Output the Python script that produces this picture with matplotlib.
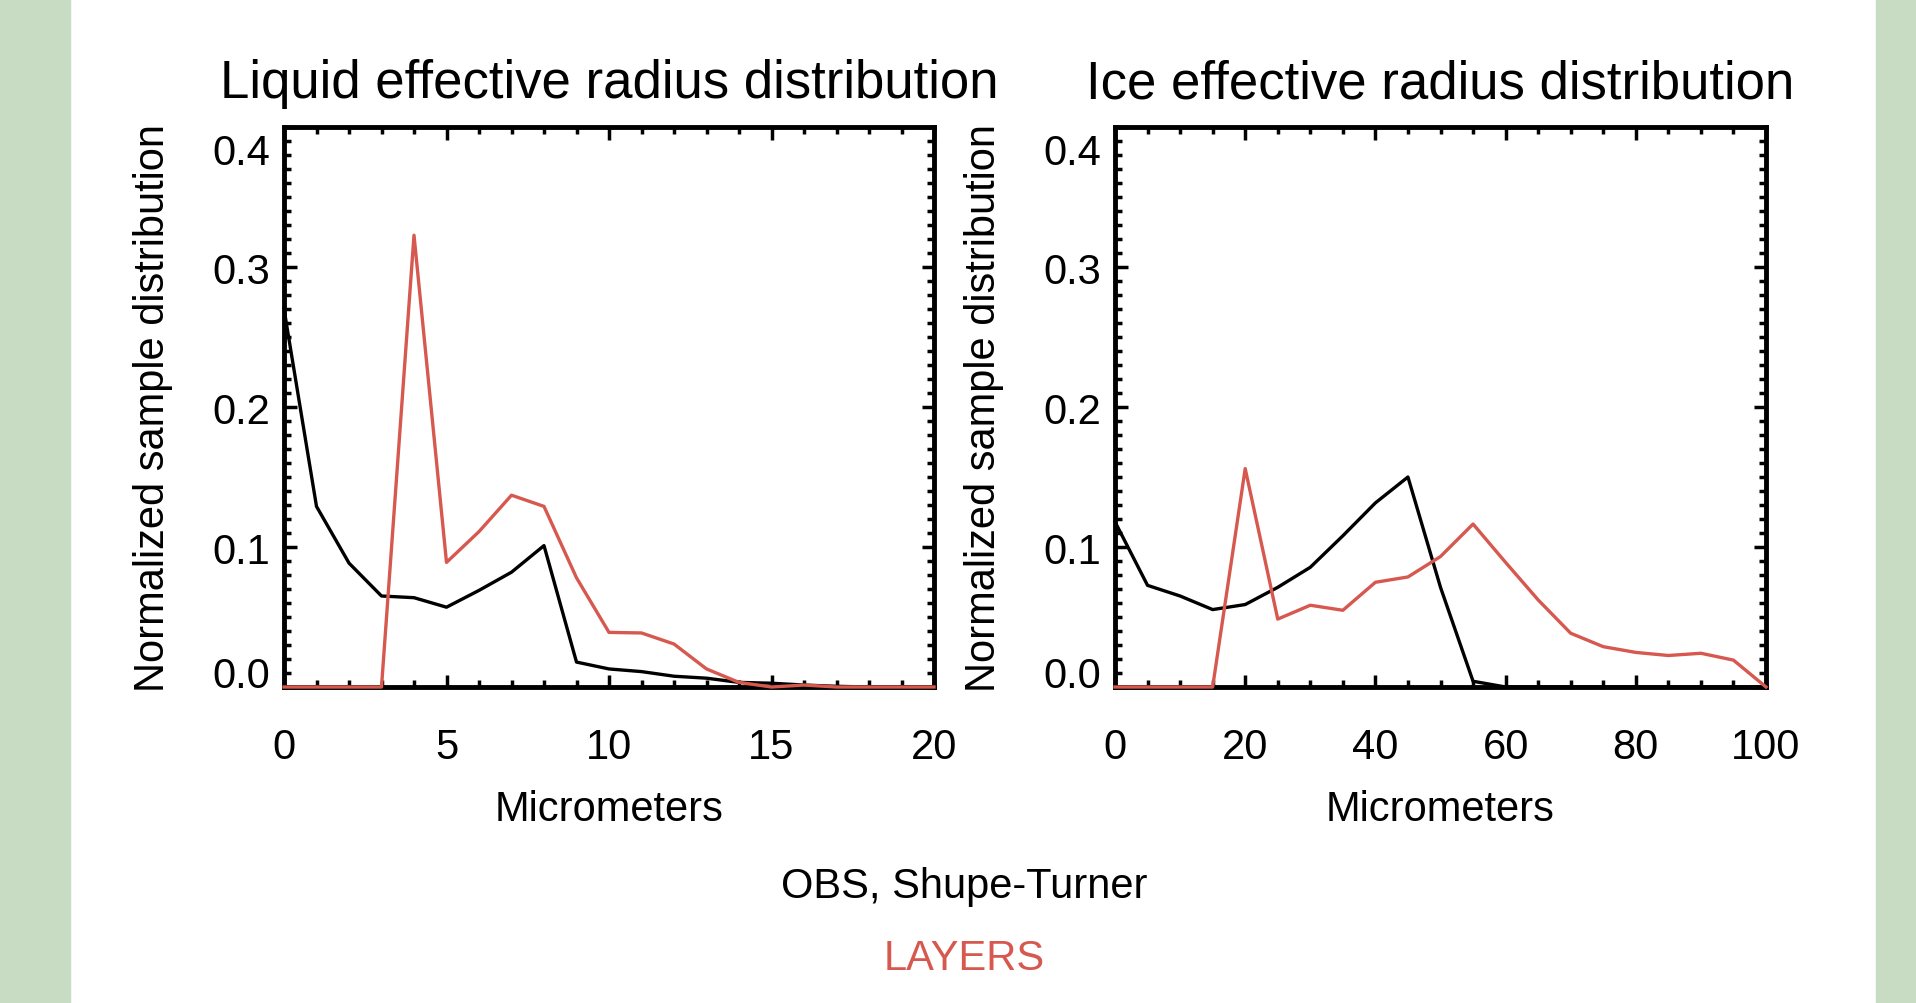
import matplotlib
matplotlib.use("Agg")
import matplotlib.pyplot as plt
from matplotlib.patches import Rectangle
from matplotlib.ticker import MultipleLocator
from matplotlib.transforms import ScaledTranslation

plt.rcParams['font.family'] = ['Liberation Sans', 'DejaVu Sans']

# ---- data ----
liq_x = list(range(0, 21))
liq_obs = [0.270, 0.129, 0.0885, 0.065, 0.0638, 0.057, 0.069, 0.082, 0.101, 0.0178,
           0.0129, 0.011, 0.0077, 0.0063, 0.0033, 0.0027, 0.0014, 0.0005, 0.0, 0.0, 0.0]
liq_layers = [0.0, 0.0, 0.0, 0.0, 0.3227, 0.089, 0.111, 0.137, 0.129, 0.078,
              0.039, 0.0386, 0.0307, 0.0129, 0.0033, 0.0, 0.0014, 0.0, 0.0, 0.0, 0.0]

ice_x = list(range(0, 101, 5))
ice_obs = [0.118, 0.0726, 0.065, 0.0553, 0.0589, 0.0712, 0.0855, 0.108, 0.1315, 0.150,
           0.0712, 0.0041, 0.0, 0.0, 0.0, 0.0, 0.0, 0.0, 0.0, 0.0, 0.0]
ice_layers = [0.0, 0.0, 0.0, 0.0, 0.156, 0.0485, 0.0584, 0.0548, 0.0748, 0.0786,
              0.0932, 0.1164, 0.089, 0.0622, 0.0384, 0.0288, 0.0247, 0.0225, 0.0241, 0.0192, 0.0]

titles = ["Liquid effective radius distribution", "Ice effective radius distribution"]
xlabel = "Micrometers"
ylabel = "Normalized sample distribution"
y_ticks = [0.0, 0.1, 0.2, 0.3, 0.4]
liq_xticks = [0, 5, 10, 15, 20]
ice_xticks = [0, 20, 40, 60, 80, 100]
legend_labels = ["OBS, Shupe-Turner", "LAYERS"]

RED = '#d6584f'
GREEN = '#c8dcc4'
FS = 30

W, H = 1916, 1004
fig = plt.figure(figsize=(W / 100, H / 100), dpi=100)
fig.patch.set_facecolor('white')

# side green bands
fig.add_artist(Rectangle((0, 0), 70 / W, 1, transform=fig.transFigure, color=GREEN, zorder=0))
fig.add_artist(Rectangle((1876 / W, 0), 40 / W, 1, transform=fig.transFigure, color=GREEN, zorder=0))

ax_h = 560 / H
ax_b = (H - 688) / H
ax1 = fig.add_axes([284 / W, ax_b, 650 / W, ax_h])
ax2 = fig.add_axes([1115 / W, ax_b, 651 / W, ax_h])

panels = [
    (ax1, liq_x, liq_obs, liq_layers, (0, 20), liq_xticks, 1, titles[0]),
    (ax2, ice_x, ice_obs, ice_layers, (0, 100), ice_xticks, 5, titles[1]),
]

for ax, x, obs, lay, xlim, xt, xminor, title in panels:
    ax.plot(x, obs, color='black', lw=2.4, zorder=3, clip_on=False)
    ax.plot(x, lay, color=RED, lw=2.4, zorder=4, clip_on=False)
    ax.set_xlim(*xlim)
    ax.set_ylim(0, 0.4)
    ax.set_xticks(xt)
    ax.set_yticks(y_ticks)
    ax.set_xticklabels([str(v) for v in xt])
    ax.set_yticklabels([f"{v:.1f}" for v in y_ticks])
    ax.xaxis.set_minor_locator(MultipleLocator(xminor))
    ax.yaxis.set_minor_locator(MultipleLocator(0.01))
    ax.tick_params(which='both', direction='in', top=True, right=True, width=2.5, colors='black')
    ax.tick_params(which='major', length=9)
    ax.tick_params(which='minor', length=5)
    ax.tick_params(axis='x', which='major', pad=29, labelsize=FS)
    ax.tick_params(axis='y', which='major', pad=10, labelsize=FS)
    for sp in ax.spines.values():
        sp.set_linewidth(3.5)
        sp.set_zorder(2)
    labs = ax.get_yticklabels()
    labs[0].set_va('baseline')
    labs[-1].set_va('top')
    labs[-1].set_transform(labs[-1].get_transform() + ScaledTranslation(0, -6 / 100, fig.dpi_scale_trans))
    ax.set_xlabel(xlabel, fontsize=FS, va='center')
    ax.xaxis.set_label_coords(0.5, -0.217)
    ax.set_ylabel(ylabel, fontsize=FS, va='center')
    ax.yaxis.set_label_coords(-131 / 650, 0.5)
    ax.set_title(title, fontsize=38, y=1.078, pad=0, va='center')

fig.text(964 / W, 1 - 887 / H, legend_labels[0], fontsize=FS, color='black', ha='center', va='center')
fig.text(964 / W, 1 - 959 / H, legend_labels[1], fontsize=FS, color=RED, ha='center', va='center')

fig.savefig('out.png', dpi=100)
